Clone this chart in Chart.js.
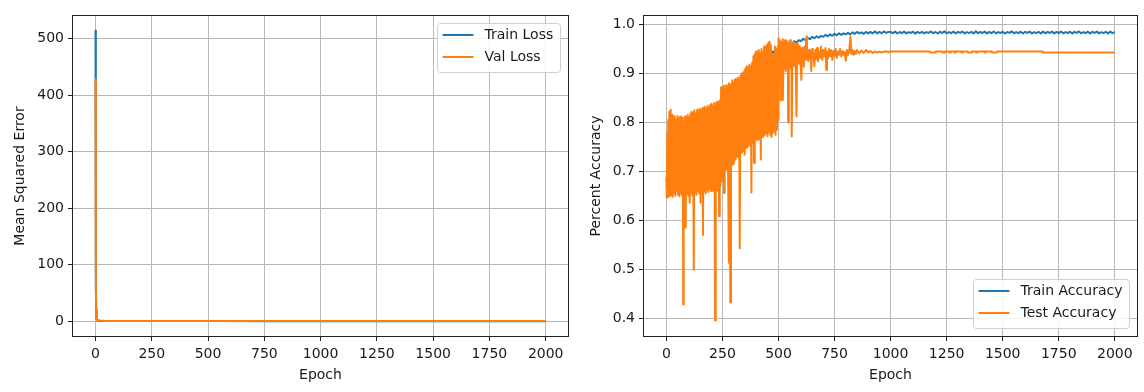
<!DOCTYPE html>
<html><head><meta charset="utf-8">
<script src="https://cdn.jsdelivr.net/npm/chart.js@4.4.1/dist/chart.umd.min.js"></script>
<style>
html,body{margin:0;padding:0;background:#fff;}
#wrap{position:relative;width:1144px;height:392px;overflow:hidden;}
.pane{position:absolute;top:0;width:572px;height:392px;}
canvas{display:block;}
</style></head><body>
<div id="wrap">
<div class="pane" style="left:0"><canvas id="c1" width="572" height="392" style="width:572px;height:392px"></canvas></div>
<div class="pane" style="left:572px"><canvas id="c2" width="572" height="392" style="width:572px;height:392px"></canvas></div>
</div>
<script>
// ---------- DATA ----------
const epochTicks = [0, 250, 500, 750, 1000, 1250, 1500, 1750, 2000];
const lossTicks = [0, 100, 200, 300, 400, 500];
const accTicks = [0.4, 0.5, 0.6, 0.7, 0.8, 0.9, 1.0];
const lossLabels = ['Train Loss', 'Val Loss'];
const accLabels = ['Train Accuracy', 'Test Accuracy'];

// [epoch, MSE]
const trainLoss = [[0,514],[1,190],[2,60],[3,20],[4,9],[5,5.5],[6,3.8],[8,2.4],[10,1.7],[12,1.4],[15,1.2],[20,1.1],[30,1.0],[50,0.9],[100,0.82],[200,0.75],[300,0.7],[500,0.62],[750,0.56],[1000,0.52],[1250,0.5],[1500,0.48],[1750,0.46],[1999,0.45]];
const valLoss = [[0,428],[1,200],[2,70],[3,22],[4,10],[5,6],[6,4],[8,2.5],[10,1.8],[12,1.5],[15,1.3],[20,1.2],[30,1.1],[50,1.0],[100,0.95],[200,0.9],[300,0.88],[500,0.85],[750,0.84],[1000,0.84],[1250,0.85],[1500,0.86],[1750,0.86],[1999,0.87]];

// [epoch, accuracy]
const trainAcc = [[0,0.680],[3,0.700],[10,0.705],[25,0.712],[50,0.722],[75,0.728],[100,0.735],[125,0.742],[150,0.750],[175,0.758],[200,0.768],[225,0.778],[250,0.790],[275,0.805],[300,0.820],[325,0.835],[350,0.850],[375,0.865],[400,0.880],[425,0.900],[450,0.918],[465,0.935],[470,0.945],[475,0.942],[480,0.946],[485,0.944],[490,0.949],[495,0.946],
[500,0.950],[510,0.955],[520,0.952],[530,0.958],[540,0.956],[550,0.962],[560,0.960],[570,0.966],[580,0.963],[590,0.968],[600,0.966],[610,0.971],[620,0.968],[630,0.973],[640,0.970],[650,0.975],[660,0.972],[670,0.976],[680,0.973],[690,0.977],[700,0.975],[710,0.979],[720,0.976],[730,0.980],[740,0.977],[750,0.981],[760,0.978],[770,0.982],[780,0.979],[790,0.982],[800,0.980],[810,0.983],[820,0.980],[830,0.984],[840,0.981],[850,0.985],[860,0.982],[870,0.984],[880,0.981],[890,0.985],[900,0.982],[910,0.985],[920,0.982],[930,0.986],[940,0.982],[950,0.985],[960,0.982],[970,0.986],[980,0.983],[990,0.985],
[1000,0.9850],[1010,0.9822],[1020,0.9856],[1030,0.9818],[1040,0.9848],[1050,0.9825],[1060,0.9858],[1070,0.9820],[1080,0.9845],[1090,0.9828],[1100,0.9855],[1110,0.9815],[1120,0.9850],[1130,0.9826],[1140,0.9852],[1150,0.9819],[1160,0.9846],[1170,0.9830],[1180,0.9860],[1190,0.9822],[1200,0.9849],[1210,0.9817],[1220,0.9854],[1230,0.9827],[1240,0.9862],[1250,0.9821],[1260,0.9847],[1270,0.9824],[1280,0.9857],[1290,0.9818],[1300,0.9851],[1310,0.9829],[1320,0.9859],[1330,0.9820],[1340,0.9845],[1350,0.9826],[1360,0.9853],[1370,0.9816],[1380,0.9862],[1390,0.9823],[1400,0.9848],[1410,0.9828],[1420,0.9856],[1430,0.9819],[1440,0.9850],[1450,0.9825],[1460,0.9858],[1470,0.9821],[1480,0.9846],[1490,0.9827],[1500,0.9854],[1510,0.9817],[1520,0.9849],[1530,0.9830],[1540,0.9861],[1550,0.9822],[1560,0.9847],[1570,0.9824],[1580,0.9855],[1590,0.9818],[1600,0.9852],[1610,0.9828],[1620,0.9857],[1630,0.9820],[1640,0.9845],[1650,0.9826],[1660,0.9853],[1670,0.9816],[1680,0.9859],[1690,0.9823],[1700,0.9848],[1710,0.9829],[1720,0.9856],[1730,0.9819],[1740,0.9850],[1750,0.9825],[1760,0.9858],[1770,0.9821],[1780,0.9846],[1790,0.9827],[1800,0.9854],[1810,0.9817],[1820,0.9851],[1830,0.9830],[1840,0.9860],[1850,0.9822],[1860,0.9847],[1870,0.9824],[1880,0.9855],[1890,0.9818],[1900,0.9852],[1910,0.9828],[1920,0.9857],[1930,0.9820],[1940,0.9845],[1950,0.9826],[1960,0.9853],[1970,0.9816],[1980,0.9859],[1990,0.9823],[1999,0.9848]];

const testAcc = [[0,0.680],[2,0.646],[4,0.780],[6,0.650],[8,0.805],[10,0.648],[13,0.822],[16,0.650],[19,0.826],[22,0.652],[25,0.815],[28,0.648],[31,0.808],[34,0.655],[37,0.812],[40,0.650],[43,0.805],[46,0.660],[49,0.813],[52,0.652],[55,0.808],[58,0.649],[61,0.812],[64,0.655],[67,0.806],[70,0.650],[73,0.810],[75,0.428],[77,0.800],[80,0.652],[83,0.812],[86,0.585],[89,0.808],[92,0.655],[95,0.815],[98,0.650],[101,0.810],[104,0.636],[107,0.818],[110,0.655],[113,0.822],[116,0.650],[119,0.820],[122,0.499],[125,0.825],[128,0.658],[131,0.818],[134,0.652],[137,0.826],[140,0.660],[143,0.820],[146,0.655],[149,0.828],[152,0.636],[155,0.825],[158,0.660],[161,0.830],[163,0.570],[166,0.826],[169,0.660],[172,0.832],[175,0.655],[178,0.828],[181,0.662],[184,0.834],[187,0.658],[190,0.830],[193,0.665],[196,0.836],[199,0.660],[202,0.838],[205,0.668],[208,0.834],[211,0.660],[214,0.840],[217,0.395],[220,0.838],[223,0.665],[226,0.842],[229,0.660],[232,0.836],[235,0.608],[238,0.845],[241,0.670],[244,0.872],[247,0.680],[250,0.870],[253,0.690],[256,0.875],[257,0.656],[260,0.868],[263,0.700],[266,0.876],[269,0.705],[272,0.872],[275,0.710],[278,0.880],[279,0.513],[282,0.875],[285,0.432],[288,0.878],[291,0.712],[294,0.886],[297,0.715],[300,0.882],[303,0.720],[306,0.888],[309,0.725],[312,0.885],[315,0.730],[318,0.892],[321,0.733],[324,0.890],[327,0.543],[330,0.896],[333,0.738],[336,0.900],[339,0.740],[342,0.902],[345,0.742],[348,0.905],[349,0.734],[352,0.910],[355,0.748],[358,0.915],[361,0.750],[364,0.912],[367,0.752],[370,0.918],[373,0.755],[376,0.915],[379,0.657],[382,0.922],[385,0.758],[388,0.935],[391,0.717],[394,0.940],[397,0.762],[400,0.945],[403,0.765],[406,0.938],[409,0.765],[412,0.948],[415,0.770],[418,0.942],[421,0.724],[424,0.950],[427,0.770],[430,0.945],[433,0.772],[436,0.955],[439,0.775],[442,0.950],[445,0.778],[448,0.958],[451,0.772],[454,0.962],[457,0.780],[460,0.965],[463,0.775],[466,0.958],[469,0.770],[472,0.940],[475,0.778],[478,0.940],[481,0.782],[484,0.955],[487,0.775],[490,0.950],[493,0.785],[496,0.955],[498,0.805],
[500,0.972],[503,0.905],[506,0.968],[509,0.900],[510,0.845],[513,0.965],[516,0.905],[519,0.970],[520,0.846],[523,0.962],[526,0.910],[529,0.968],[532,0.905],[535,0.958],[538,0.912],[541,0.966],[543,0.800],[546,0.960],[549,0.915],[552,0.968],[555,0.910],[558,0.962],[559,0.771],[562,0.958],[565,0.918],[568,0.965],[571,0.915],[574,0.960],[577,0.920],[580,0.812],[583,0.962],[586,0.922],[589,0.958],[592,0.920],[595,0.955],[598,0.925],[602,0.887],[605,0.952],[608,0.928],[611,0.950],[613,0.914],[616,0.955],[619,0.928],[622,0.948],[624,0.9755],[627,0.930],[630,0.945],[633,0.925],[636,0.948],[640,0.930],[643,0.945],[646,0.905],[650,0.950],[653,0.932],[656,0.942],[660,0.915],[664,0.948],[668,0.930],[672,0.952],[676,0.925],[680,0.945],[685,0.932],[690,0.955],[695,0.928],[700,0.948],[705,0.935],[710,0.952],[713,0.907],[716,0.945],[720,0.930],[725,0.950],[730,0.935],[735,0.948],[740,0.928],[745,0.946],[750,0.936],[755,0.950],[760,0.932],[765,0.945],[770,0.938],[775,0.950],[780,0.935],[785,0.946],[790,0.938],[795,0.944],[800,0.926],[805,0.948],[810,0.938],[815,0.946],[821,0.9755],[825,0.940],[830,0.948],[835,0.938],[840,0.946],[845,0.940],[850,0.948],[860,0.941],[870,0.947],[880,0.942],[890,0.948],[900,0.943],[910,0.946],[920,0.942],[930,0.9448],[940,0.943],[950,0.9448],[960,0.9428],[970,0.9448],[985,0.9448],[990,0.9428],[995,0.9448],
[1000,0.9448],[1174,0.9448],[1176,0.9428],[1200,0.9428],[1202,0.9448],[1230,0.9448],[1232,0.9428],[1240,0.9428],[1242,0.9448],[1260,0.9448],[1262,0.9428],[1266,0.9428],[1268,0.9448],[1284,0.9448],[1286,0.9428],[1290,0.9428],[1292,0.9448],[1314,0.9448],[1316,0.9428],[1320,0.9428],[1322,0.9448],[1344,0.9448],[1346,0.9428],[1360,0.9428],[1362,0.9448],[1380,0.9448],[1382,0.9428],[1386,0.9428],[1388,0.9448],[1418,0.9448],[1420,0.9428],[1424,0.9428],[1426,0.9448],[1450,0.9448],[1452,0.9428],[1473,0.9428],[1475,0.9448],[1678,0.9448],[1680,0.9428],[1999,0.9428]];

// ---------- STYLE / LAYOUT ----------
const FONT = '"DejaVu Sans", "Liberation Sans", sans-serif';
const TXT = '#1a1a1a';
const BLUE = '#1f77b4', ORANGE = '#ff7f0e';
Chart.defaults.font.family = FONT;
Chart.defaults.font.size = 14;
Chart.defaults.color = TXT;

const toXY = a => a.map(([x, y]) => ({x, y}));

const framePlugin = {
  id: 'frame',
  afterDatasetsDraw(chart) {
    const {ctx, chartArea: a} = chart;
    ctx.save();
    ctx.strokeStyle = '#222';
    ctx.lineWidth = 1;
    ctx.strokeRect(Math.round(a.left) - 0.5, Math.round(a.top) - 0.5,
                   Math.round(a.right - a.left) + 1, Math.round(a.bottom - a.top) + 1);
    ctx.restore();
  }
};

function legendPlugin(corner) {
  return {
    id: 'mplLegend',
    afterDraw(chart) {
      const {ctx, chartArea: a} = chart;
      const items = chart.data.datasets.slice().sort((p, q) => p.legendIndex - q.legendIndex);
      ctx.save();
      ctx.font = '14px ' + FONT;
      const tw = Math.max(...items.map(d => ctx.measureText(d.label).width));
      const w = Math.round(5 + 31 + 11 + tw + 7), h = 49;
      const x = Math.round(a.right - 8 - w) + 0.5;
      const y = Math.round(corner === 'upper' ? a.top + 7 : a.bottom - 8 - h) + 0.5;
      const r = 3;
      ctx.beginPath();
      ctx.moveTo(x + r, y);
      ctx.lineTo(x + w - r, y); ctx.quadraticCurveTo(x + w, y, x + w, y + r);
      ctx.lineTo(x + w, y + h - r); ctx.quadraticCurveTo(x + w, y + h, x + w - r, y + h);
      ctx.lineTo(x + r, y + h); ctx.quadraticCurveTo(x, y + h, x, y + h - r);
      ctx.lineTo(x, y + r); ctx.quadraticCurveTo(x, y, x + r, y);
      ctx.closePath();
      ctx.fillStyle = 'rgba(255,255,255,0.85)';
      ctx.fill();
      ctx.strokeStyle = '#d0d0d0';
      ctx.lineWidth = 1;
      ctx.stroke();
      items.forEach((d, i) => {
        const cy = Math.round(y + 11.5 + i * 21.6);
        ctx.strokeStyle = d.borderColor;
        ctx.lineWidth = 2;
        ctx.beginPath();
        ctx.moveTo(x + 5, cy); ctx.lineTo(x + 36, cy);
        ctx.stroke();
        ctx.fillStyle = TXT;
        ctx.textBaseline = 'middle';
        ctx.textAlign = 'left';
        ctx.fillText(d.label, x + 47, cy + 0.5);
      });
      ctx.restore();
    }
  };
}

function makeChart(id, cfg) {
  const gridCommon = {color: '#b8b8b8', lineWidth: 1, tickColor: '#222', tickLength: 5, tickWidth: 1};
  return new Chart(document.getElementById(id), {
    type: 'line',
    data: {
      datasets: cfg.series.map((s, i) => ({
        label: s.label, data: toXY(s.data), borderColor: s.color, backgroundColor: s.color,
        borderWidth: 2, pointRadius: 0, pointHoverRadius: 0, tension: 0, fill: false,
        borderJoinStyle: 'round', borderCapStyle: 'butt', order: cfg.series.length - i, legendIndex: i
      }))
    },
    options: {
      responsive: false, animation: false, parsing: true, normalized: true,
      events: [],
      layout: {padding: {top: 16, right: cfg.padRight, left: 0, bottom: 0}},
      plugins: {legend: {display: false}, tooltip: {enabled: false}},
      scales: {
        x: {
          type: 'linear', min: -100, max: 2099,
          afterBuildTicks: s => { s.ticks = epochTicks.map(v => ({value: v})); },
          afterFit: s => { s.height = 56; },
          grid: gridCommon, border: {display: false},
          ticks: {padding: 5, maxRotation: 0, autoSkip: false, color: TXT, font: {size: 14}, callback: v => String(v)},
          title: {display: true, text: 'Epoch', color: TXT, font: {size: 14}, padding: {top: 0, bottom: 8}}
        },
        y: {
          type: 'linear', min: cfg.yMin, max: cfg.yMax,
          afterBuildTicks: s => { s.ticks = cfg.yTicks.map(v => ({value: v})); },
          afterFit: s => { s.width = cfg.yWidth; },
          grid: gridCommon, border: {display: false},
          ticks: {padding: 4, autoSkip: false, color: TXT, font: {size: 14}, callback: cfg.yFmt},
          title: {display: true, text: cfg.yTitle, color: TXT, font: {size: 14}, padding: {top: cfg.yTitlePad, bottom: 0}}
        }
      }
    },
    plugins: [framePlugin, legendPlugin(cfg.legendCorner)]
  });
}

makeChart('c1', {
  series: [
    {label: lossLabels[0], data: trainLoss, color: BLUE},
    {label: lossLabels[1], data: valLoss, color: ORANGE}
  ],
  yMin: -25.7, yMax: 539.7, yTicks: lossTicks, yFmt: v => String(v),
  yTitle: 'Mean Squared Error', yWidth: 73, yTitlePad: 12, padRight: 4, legendCorner: 'upper'
});

makeChart('c2', {
  series: [
    {label: accLabels[0], data: trainAcc, color: BLUE},
    {label: accLabels[1], data: testAcc, color: ORANGE}
  ],
  yMin: 0.3635, yMax: 1.0175, yTicks: accTicks, yFmt: v => Number(v).toFixed(1),
  yTitle: 'Percent Accuracy', yWidth: 72, yTitlePad: 15.5, padRight: 7, legendCorner: 'lower'
});
</script>
</body></html>
